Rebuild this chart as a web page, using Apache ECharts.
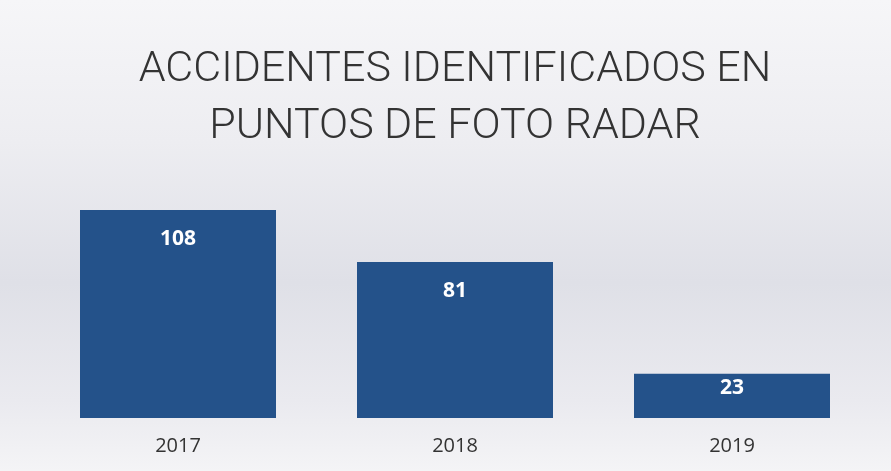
<!DOCTYPE html>
<html><head><meta charset="utf-8">
<script src="https://cdn.jsdelivr.net/npm/echarts@6/dist/echarts.min.js"></script>
<style>html,body{margin:0;padding:0;background:#f3f3f5}#c{width:891px;height:471px}</style>
</head><body><div id="c"></div>
<script>
const categories = ['2017', '2018', '2019'];
const values = [108, 81, 23];
const titleText = 'ACCIDENTES IDENTIFICADOS EN\nPUNTOS DE FOTO RADAR';

const chart = echarts.init(document.getElementById('c'));
chart.setOption({
  backgroundColor: {
    type: 'linear', x: 0, y: 0, x2: 0, y2: 1,
    colorStops: [
      {offset: 0, color: '#f6f6f8'},
      {offset: 0.3, color: '#ededf1'},
      {offset: 0.6, color: '#dfe0e7'},
      {offset: 0.85, color: '#eaeaef'},
      {offset: 1, color: '#f4f4f6'}
    ]
  },
  title: {
    text: titleText,
    left: 450, top: 37,
    textAlign: 'center',
    textStyle: {fontFamily: 'Roboto', fontWeight: 300, fontSize: 43, color: '#333', lineHeight: 57}
  },
  grid: {left: 39.5, right: 20.5, top: 187, bottom: 53},
  xAxis: {
    type: 'category', data: categories,
    axisLine: {show: false}, axisTick: {show: false},
    axisLabel: {fontFamily: '"Open Sans", sans-serif', fontSize: 20, color: '#333', margin: 18}
  },
  yAxis: {type: 'value', min: 0, max: 120, show: false, splitLine: {show: false}},
  series: [{
    type: 'bar',
    data: values.map((v, i) => i === 2 ? {value: v, label: {distance: 4}} : v),
    barWidth: 196,
    itemStyle: {color: '#24528a'},
    label: {show: true, position: 'insideTop', distance: 18, color: '#fff', fontWeight: 'bold', fontSize: 21, fontFamily: '"Open Sans", sans-serif'}
  }]
});
</script></body></html>
